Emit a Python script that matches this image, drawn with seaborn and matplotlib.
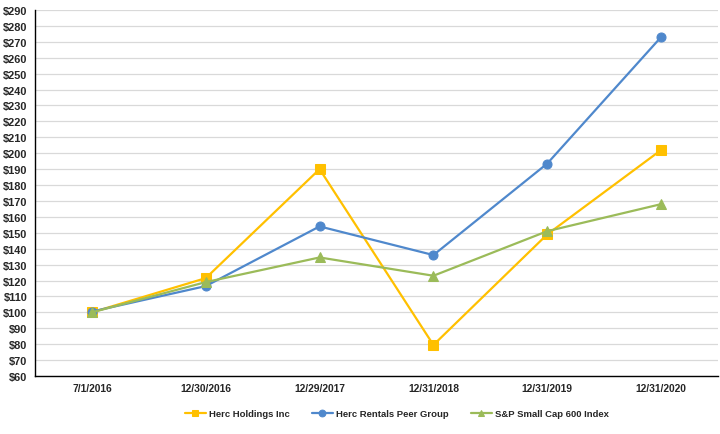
import matplotlib
matplotlib.use("Agg")
import matplotlib.pyplot as plt
import seaborn as sns
import pandas as pd

dates = ["7/1/2016", "12/30/2016", "12/29/2017", "12/31/2018", "12/31/2019", "12/31/2020"]
herc_holdings = [100, 121.5, 190, 79.5, 149, 202]
peer_group = [100.5, 116.5, 154, 136, 193.5, 273]
sp600 = [100, 119, 134.5, 123, 151, 168]
y_ticks = list(range(60, 300, 10))

series_names = ["Herc Holdings Inc", "Herc Rentals Peer Group", "S&P Small Cap 600 Index"]
series_values = [herc_holdings, peer_group, sp600]
colors = ["#FFC000", "#4F88CC", "#9BBB59"]
markers = ["s", "o", "^"]

sns.set_style("white")
plt.rcParams['font.family'] = ['Liberation Sans', 'DejaVu Sans']

fig = plt.figure(figsize=(7.2, 4.35), dpi=100)
ax = fig.add_axes([35/720, 1 - 377/435, 683/720, (377 - 11)/435])

for name, vals, c, m in zip(series_names, series_values, colors, markers):
    df = pd.DataFrame({"date": dates, "value": vals})
    sns.lineplot(data=df, x="date", y="value", ax=ax, color=c, marker=m,
                 markersize=6.5, markeredgecolor=c, linewidth=1.6, label=name,
                 sort=False)

ax.set_xlim(-0.5, 5.5)
ax.set_ylim(60, 290)
ax.set_yticks(y_ticks)
ax.set_yticklabels([f"${v}" for v in y_ticks], fontsize=7.9, fontweight="bold")
ax.set_xticks(range(len(dates)))
ax.set_xticklabels(dates, fontsize=7.4, fontweight="bold")
ax.set_xticks([i - 0.5 for i in range(len(dates) + 1)], minor=True)
ax.tick_params(axis="x", which="major", length=0, pad=5)
ax.tick_params(axis="x", which="minor", length=4, width=0.8, color="black", direction="out")
ax.tick_params(axis="y", which="major", length=4, width=0.8, color="black", direction="out", pad=1.5)
ax.set_xlabel("")
ax.set_ylabel("")
ax.grid(axis="y", color="#D9D9D9", linewidth=0.9)
ax.set_axisbelow(True)
for s in ["top", "right"]:
    ax.spines[s].set_visible(False)
for s in ["left", "bottom"]:
    ax.spines[s].set_color("black")
    ax.spines[s].set_linewidth(1.0)

ax.legend_.remove()
handles, labels = ax.get_legend_handles_labels()
leg = fig.legend(handles, labels, loc="center", bbox_to_anchor=(0.551, 1 - 415/435), ncol=3,
                 frameon=False, prop={"size": 6.8, "weight": "bold"}, handlelength=2.2,
                 columnspacing=2.4, handletextpad=0.3, markerscale=0.75)

fig.savefig("out.png", dpi=100)
